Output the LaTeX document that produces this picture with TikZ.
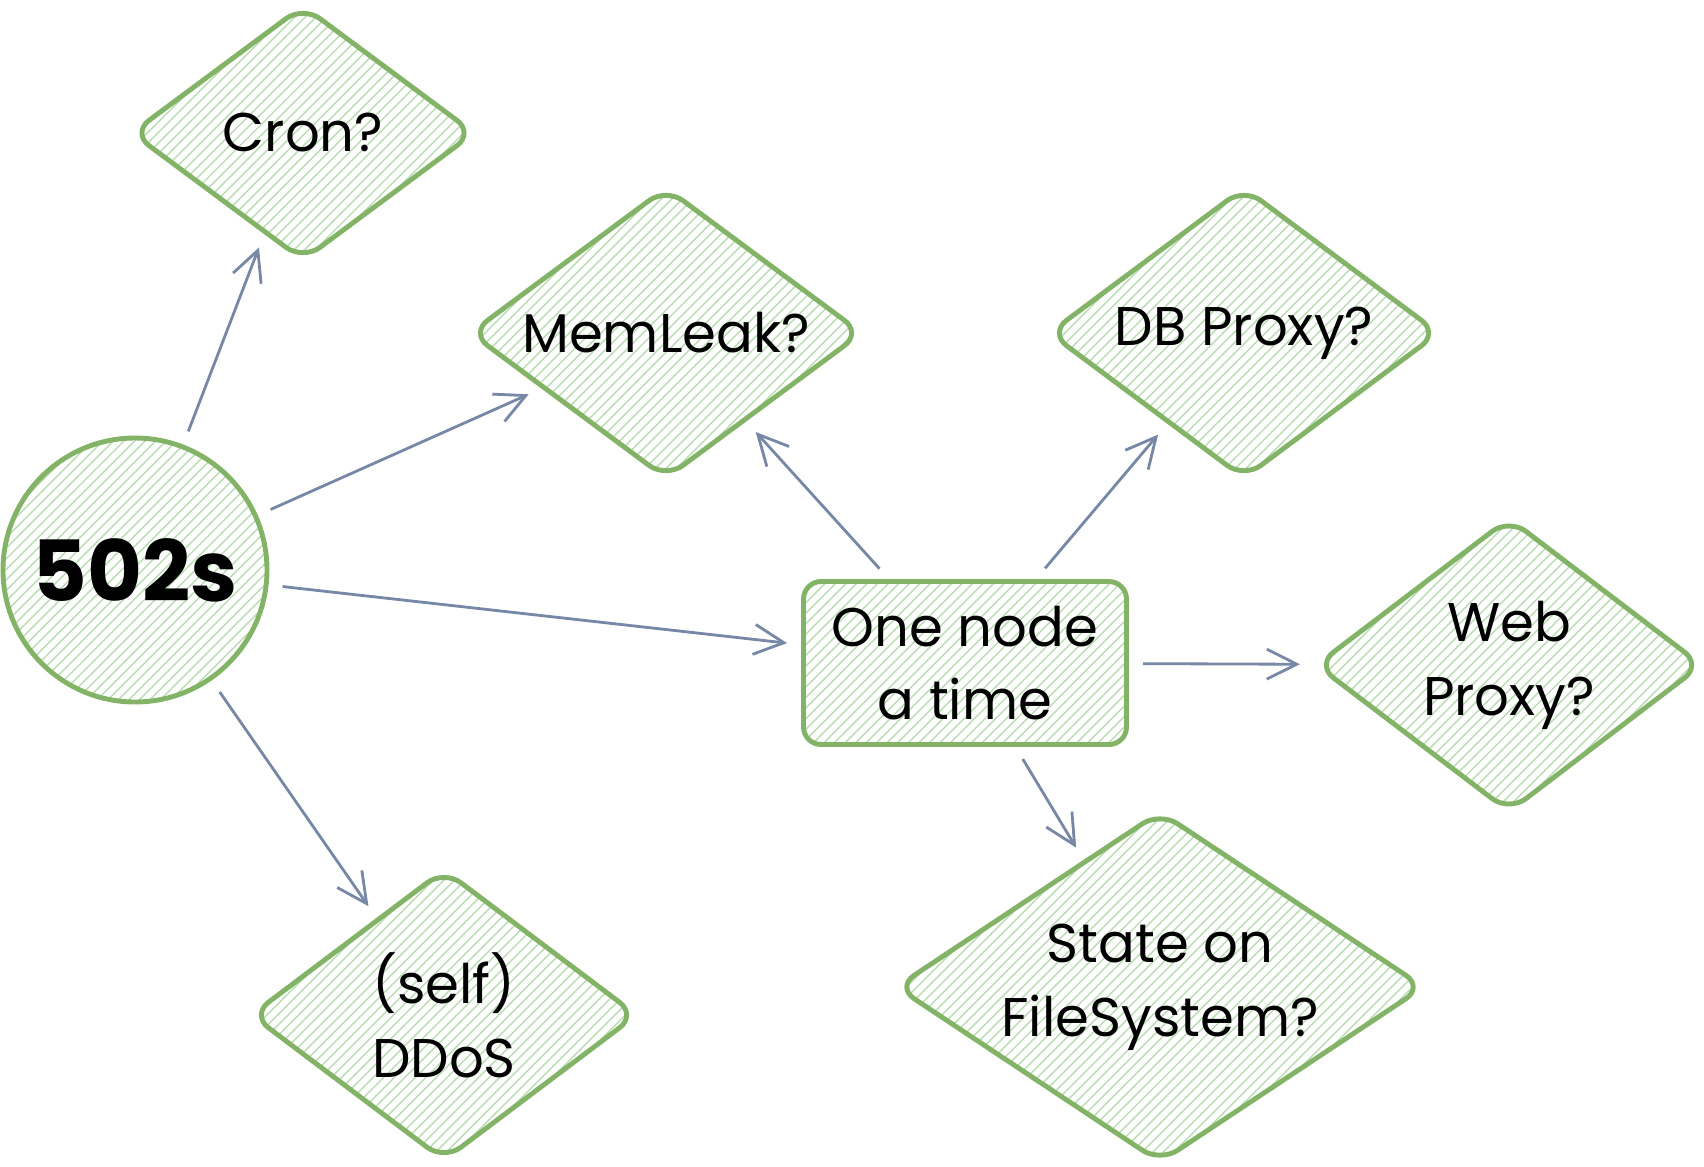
\documentclass[tikz,border=0pt]{standalone}
\usepackage{fontspec}
\setmainfont{Poppins}
\usetikzlibrary{shapes.geometric,arrows.meta,patterns}
\definecolor{edgegreen}{HTML}{82B366}
\definecolor{hatchgreen}{HTML}{B9DDB3}
\definecolor{linkgrey}{HTML}{7787A6}

\begin{document}
\begin{tikzpicture}
  [every node/.style={draw=edgegreen, line width=1.4pt, pattern=north east lines,
     pattern color=hatchgreen, align=center, inner sep=0pt,
     font=\fontsize{15.5}{21}\selectfont},
   decision/.style={diamond, aspect=1.35, rounded corners=6pt},
   start/.style={circle, minimum size=26.4mm, font=\fontsize{24}{28}\selectfont\bfseries},
   stepbox/.style={rectangle, rounded corners=5pt, minimum width=32.3mm, minimum height=16.3mm},
   link/.style={draw=linkgrey, line width=0.8pt, -{Straight Barb[length=3mm,width=3mm]},
     shorten <=4pt, shorten >=4pt}]
  \useasboundingbox (0,0) rectangle (17.04,-11.66);
  \node[start] (errors) at (1.35,-5.70) {502s};
  \node[stepbox] (onenode) at (9.65,-6.63) {One node\\a time};
  \node[decision, minimum width=34.4mm, minimum height=25.6mm] (cron) at (3.03,-1.33) {Cron?};
  \node[decision, minimum width=39.3mm, minimum height=29.2mm] (memleak) at (6.66,-3.33) {MemLeak?};
  \node[decision, minimum width=39.1mm, minimum height=29.2mm] (dbproxy) at (12.44,-3.33) {DB Proxy?};
  \node[decision, minimum width=38.7mm, minimum height=29.5mm] (webproxy) at (15.09,-6.65) {Web\\Proxy?};
  \node[decision, aspect=1.5, minimum width=52.9mm, minimum height=35.2mm] (state) at (11.60,-9.87) {State on\\FileSystem?};
  \node[decision, minimum width=38.7mm, minimum height=29.2mm] (ddos) at (4.44,-10.15) {(self)\\DDoS};

  \draw[link] (errors) -- (cron);
  \draw[link] (errors) -- (memleak);
  \draw[link] (errors) -- (onenode);
  \draw[link] (errors) -- (ddos);
  \draw[link] (onenode) -- (memleak);
  \draw[link] (onenode) -- (dbproxy);
  \draw[link] (onenode) -- (webproxy);
  \draw[link] (onenode) -- (state);
\end{tikzpicture}
\end{document}
